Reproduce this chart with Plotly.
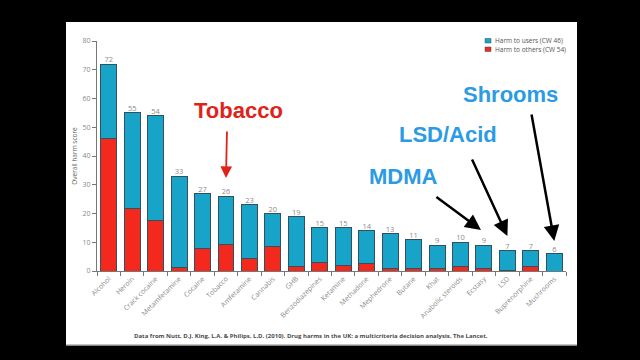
import plotly.graph_objects as go

drugs = ["Alcohol", "Heroin", "Crack cocaine", "Metamfetamine", "Cocaine", "Tobacco",
         "Amfetamine", "Cannabis", "GHB", "Benzodiazepines", "Ketamine", "Methadone",
         "Mephedrone", "Butane", "Khat", "Anabolic steroids", "Ecstasy", "LSD",
         "Buprenorphine", "Mushrooms"]
total_score = [72, 55, 54, 33, 27, 26, 23, 20, 19, 15, 15, 14, 13, 11, 9, 10, 9, 7, 7, 6]
harm_others = [46, 21.7, 17.7, 1.3, 7.9, 9.2, 4.4, 8.6, 1.4, 3.0, 2.0, 2.7, 1.0, 1.0, 0.8, 1.4, 0.8, 0.3, 1.4, 0.0]
harm_users = [26, 33.3, 36.3, 31.7, 19.1, 16.8, 18.6, 11.4, 17.6, 12.0, 13.0, 11.3, 12.0, 10.0, 8.2, 8.6, 8.2, 6.7, 5.6, 6.0]
y_ticks = [0, 10, 20, 30, 40, 50, 60, 70, 80]

BLUE = "#18a3c9"
RED = "#f2291c"
EDGE = "#33505e"
GRAY = "#8a8a8a"
FONT = "Open Sans"

# plot-area geometry (pixels) used to place non-data decorations
W, H = 640, 360
ML, MR, MT, MB = 97, 74, 41, 89
PW, PH = W - ML - MR, H - MT - MB


def px(xpix):
    return (xpix - ML) / PW


def py(ypix):
    return (H - MB - ypix) / PH


def yval(ypix):
    return (H - MB - ypix) / PH * 80


fig = go.Figure()
fig.add_trace(go.Bar(x=drugs, y=harm_others, name="Harm to others (CW 54)",
                     marker=dict(color=RED, line=dict(color=EDGE, width=1)),
                     showlegend=False, hoverinfo="skip"))
fig.add_trace(go.Bar(x=drugs, y=harm_users, name="Harm to users (CW 46)",
                     marker=dict(color=BLUE, line=dict(color=EDGE, width=1)),
                     showlegend=False, hoverinfo="skip"))
fig.add_trace(go.Scatter(x=drugs, y=total_score, mode="text",
                         text=[str(v) for v in total_score], textposition="top center",
                         textfont=dict(family=FONT, size=7.5, color=GRAY),
                         showlegend=False, hoverinfo="skip", cliponaxis=False))

shapes = [
    # white slide panel
    dict(type="rect", xref="paper", yref="paper", x0=px(66), x1=px(577), y0=py(345), y1=py(22),
         fillcolor="white", line=dict(width=0), layer="below"),
    dict(type="line", xref="paper", yref="paper", x0=px(66), x1=px(577), y0=py(345), y1=py(345),
         line=dict(color="#b0b0b0", width=1.5), layer="below"),
    # legend swatches
    dict(type="rect", xref="paper", yref="paper", x0=px(485), x1=px(491), y0=py(43), y1=py(38.5),
         fillcolor=BLUE, line=dict(color=EDGE, width=0.5)),
    dict(type="rect", xref="paper", yref="paper", x0=px(485), x1=px(491), y0=py(51.5), y1=py(47),
         fillcolor=RED, line=dict(color=EDGE, width=0.5)),
]


def label(x, y, text, color):
    return dict(xref="paper", yref="paper", x=px(x), y=py(y), text="<b>%s</b>" % text,
                showarrow=False, xanchor="center", yanchor="middle",
                font=dict(family="Liberation Sans", size=22, color=color))


annotations = [
    dict(xref="paper", yref="paper", x=px(493), y=py(40.5), text="Harm to users (CW 46)",
         showarrow=False, xanchor="left", yanchor="middle",
         font=dict(family=FONT, size=6.5, color="#555")),
    dict(xref="paper", yref="paper", x=px(493), y=py(49.5), text="Harm to others (CW 54)",
         showarrow=False, xanchor="left", yanchor="middle",
         font=dict(family=FONT, size=6.5, color="#555")),
    dict(xref="paper", yref="paper", x=px(311), y=py(336),
         text="Data from Nutt, D.J. King, L.A. &amp; Philips, L.D. (2010). Drug harms in the UK: a multicriteria decision analysis. The Lancet.",
         showarrow=False, xanchor="center", yanchor="middle",
         font=dict(family=FONT, size=6, color="#4a4a4a", weight="bold")),
    # big callout labels
    label(238, 110, "Tobacco", "#e0231a"),
    label(403, 176, "MDMA", "#2b9be3"),
    label(448, 134, "LSD/Acid", "#2b9be3"),
    label(510, 94, "Shrooms", "#2b9be3"),
    # arrows
    dict(x="Tobacco", y=yval(178), text="", showarrow=True, ax=1, ay=-48,
         arrowhead=2, arrowsize=1.3, arrowwidth=1.8, arrowcolor="#e0231a"),
    dict(x="Ecstasy", y=yval(230), text="", showarrow=True, ax=-46, ay=-34,
         arrowhead=2, arrowsize=1.25, arrowwidth=2.5, arrowcolor="black", xshift=-3),
    dict(x="LSD", y=yval(236), text="", showarrow=True, ax=-36, ay=-78,
         arrowhead=2, arrowsize=1.25, arrowwidth=2.5, arrowcolor="black"),
    dict(x="Mushrooms", y=yval(241), text="", showarrow=True, ax=-23, ay=-128,
         arrowhead=2, arrowsize=1.25, arrowwidth=2.5, arrowcolor="black"),
]

fig.update_layout(
    width=W, height=H,
    margin=dict(l=ML, r=MR, t=MT, b=MB, pad=0, autoexpand=False),
    paper_bgcolor="black", plot_bgcolor="rgba(0,0,0,0)",
    barmode="stack", bargap=0.32,
    showlegend=False,
    shapes=shapes, annotations=annotations,
    font=dict(family=FONT, color=GRAY),
)
fig.update_xaxes(
    type="category", range=[-0.5, len(drugs) - 0.5],
    showline=True, linecolor="#777", linewidth=1, automargin=False,
    ticks="outside", tickson="boundaries", ticklen=4, tickcolor="#777",
    tickangle=-45, tickfont=dict(family=FONT, size=7, color=GRAY),
    showgrid=False, zeroline=False,
)
fig.update_yaxes(
    range=[0, 80], tickvals=y_ticks, showline=True, linecolor="#777", linewidth=1, automargin=False,
    ticks="outside", ticklen=4, tickcolor="#777",
    tickfont=dict(family=FONT, size=7, color=GRAY),
    title=dict(text="Overall harm score", font=dict(family=FONT, size=6.5, color="#666"), standoff=4),
    showgrid=False, zeroline=False,
)

fig.write_html("out.html", config={"displayModeBar": False},
               post_script="document.body.style.margin='0';")
